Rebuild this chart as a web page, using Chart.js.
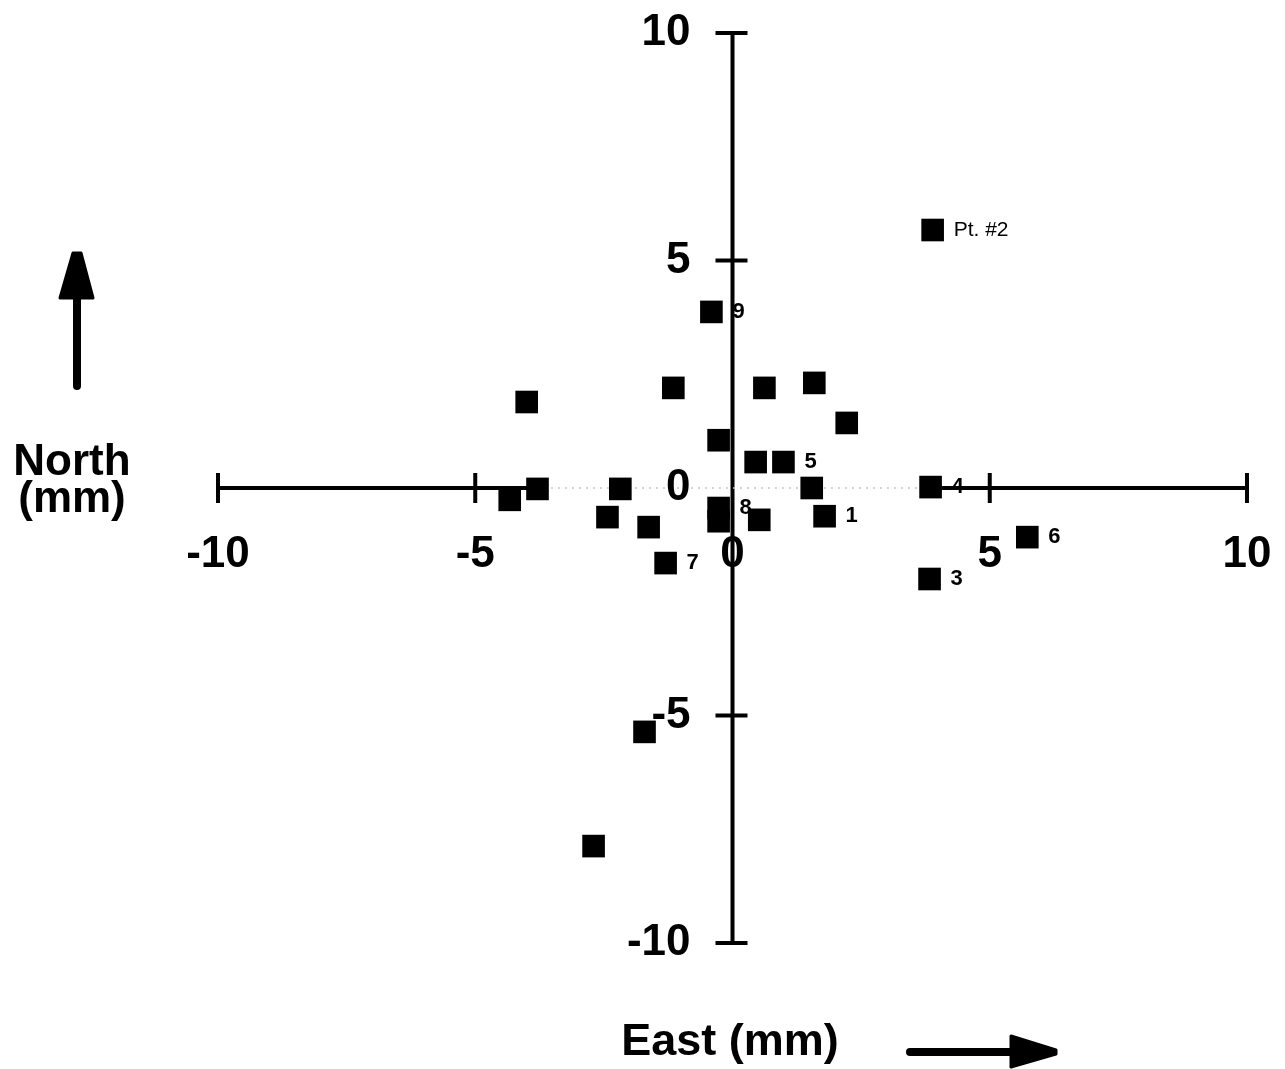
<!DOCTYPE html>
<html>
<head>
<meta charset="utf-8">
<script src="https://cdn.jsdelivr.net/npm/chart.js@4"></script>
<style>
  html, body { margin: 0; padding: 0; background: #fff; }
</style>
</head>
<body>
<canvas id="chartCanvas" width="1285" height="1069"></canvas>
<script>
// displacement of each survey point, mm
const eastMm  = [3.89, -0.41, -4.00, -1.15, 0.62, 1.59, 2.22, -0.27, 0.45, 0.99, 1.54, 1.79, 0.52, -0.27, -0.27, -2.18, -2.43, -1.63, -1.30, -3.79, -4.33, 3.85, 3.83, 5.73, -1.71, -2.70];
const northMm = [5.67, 3.87, 1.89, 2.20, 2.20, 2.31, 1.43, 1.05, 0.57, 0.57, 0.00, -0.62, -0.70, -0.44, -0.73, -0.02, -0.64, -0.86, -1.65, -0.02, -0.26, 0.02, -2.00, -1.08, -5.36, -7.87];
const pointTags = ['Pt. #2', '9', '', '', '', '', '', '', '', '5', '', '1', '', '8', '', '', '', '', '7', '', '', '4', '3', '6', '', ''];

const xTicks = [-10, -5, 5, 10];
const yTicks = [10, 5, -5, -10];
const xTickLabels = ['-10', '-5', '0', '5', '10'];
const xTickLabelVals = [-10, -5, 0, 5, 10];
const yTickLabels = ['10', '5', '0', '-5', '-10'];
const yTickLabelVals = [10, 5, 0, -5, -10];
const axisGap = [-3.8, 3.85]; // part of the east axis that faded out in print

const FONT = '"Liberation Sans", Arial, Helvetica, sans-serif';

const crossAxes = {
  id: 'crossAxes',
  beforeDatasetsDraw(chart) {
    const { ctx } = chart;
    const xs = chart.scales.x, ys = chart.scales.y;
    const x0 = xs.getPixelForValue(0), y0 = ys.getPixelForValue(0);
    ctx.save();
    ctx.strokeStyle = '#000';
    ctx.lineWidth = 4;
    ctx.lineCap = 'butt';

    // north axis
    ctx.beginPath();
    ctx.moveTo(x0, ys.getPixelForValue(10));
    ctx.lineTo(x0, ys.getPixelForValue(-10));
    ctx.stroke();
    yTicks.forEach(v => {
      const py = ys.getPixelForValue(v);
      ctx.beginPath();
      ctx.moveTo(x0 - 17, py);
      ctx.lineTo(x0 + 15, py);
      ctx.stroke();
    });

    // east axis, solid at both ends
    ctx.beginPath();
    ctx.moveTo(xs.getPixelForValue(-10), y0);
    ctx.lineTo(xs.getPixelForValue(axisGap[0]), y0);
    ctx.moveTo(xs.getPixelForValue(axisGap[1]), y0);
    ctx.lineTo(xs.getPixelForValue(10), y0);
    ctx.stroke();
    ctx.save();
    ctx.strokeStyle = '#c8c8c8';
    ctx.lineWidth = 1.5;
    ctx.setLineDash([2, 5]);
    ctx.beginPath();
    ctx.moveTo(xs.getPixelForValue(axisGap[0]), y0);
    ctx.lineTo(xs.getPixelForValue(axisGap[1]), y0);
    ctx.stroke();
    ctx.restore();
    xTicks.forEach(v => {
      const px = xs.getPixelForValue(v);
      ctx.beginPath();
      ctx.moveTo(px, y0 - 15);
      ctx.lineTo(px, y0 + 15);
      ctx.stroke();
    });

    // tick labels
    ctx.fillStyle = '#000';
    ctx.font = 'bold 44px ' + FONT;
    ctx.textAlign = 'center';
    ctx.textBaseline = 'middle';
    xTickLabels.forEach((t, i) => {
      ctx.fillText(t, xs.getPixelForValue(xTickLabelVals[i]), y0 + 67);
    });
    ctx.textAlign = 'right';
    yTickLabels.forEach((t, i) => {
      ctx.fillText(t, x0 - 42, ys.getPixelForValue(yTickLabelVals[i]));
    });

    // axis titles and arrows
    ctx.textAlign = 'center';
    ctx.fillText('North', 72, 463);
    ctx.fillText('(mm)', 72, 500);
    ctx.font = 'bold 45px ' + FONT;
    ctx.fillText('East (mm)', 730, 1043);

    ctx.lineWidth = 8;
    ctx.lineCap = 'round';
    ctx.beginPath();
    ctx.moveTo(77, 386);
    ctx.lineTo(77, 292);
    ctx.moveTo(910, 1052);
    ctx.lineTo(1015, 1052);
    ctx.stroke();
    ctx.lineJoin = 'round';
    ctx.lineWidth = 3;
    ctx.beginPath();
    ctx.moveTo(60, 298);
    ctx.lineTo(93, 298);
    ctx.lineTo(81, 253);
    ctx.lineTo(73, 253);
    ctx.closePath();
    ctx.fill();
    ctx.stroke();
    ctx.beginPath();
    ctx.moveTo(1011, 1036);
    ctx.lineTo(1056, 1050);
    ctx.lineTo(1056, 1054);
    ctx.lineTo(1011, 1067);
    ctx.closePath();
    ctx.fill();
    ctx.stroke();
    ctx.restore();
  },
  afterDatasetsDraw(chart) {
    const { ctx } = chart;
    const meta = chart.getDatasetMeta(0);
    ctx.save();
    ctx.fillStyle = '#000';
    ctx.textAlign = 'left';
    ctx.textBaseline = 'middle';
    meta.data.forEach((pt, i) => {
      const tag = pointTags[i];
      if (!tag) return;
      ctx.font = (tag.length > 1 ? '21px ' : 'bold 22px ') + FONT;
      ctx.fillText(tag, pt.x + 21, pt.y);
    });
    ctx.restore();
  }
};

new Chart(document.getElementById('chartCanvas').getContext('2d'), {
  type: 'scatter',
  data: {
    datasets: [{
      data: eastMm.map((e, i) => ({ x: e, y: northMm[i] })),
      pointStyle: 'rect',
      pointRadius: 16,
      pointHoverRadius: 16,
      backgroundColor: '#000',
      borderColor: '#000',
      borderWidth: 0
    }]
  },
  options: {
    responsive: false,
    animation: false,
    layout: { padding: { left: 218, right: 38, top: 33, bottom: 126 } },
    plugins: { legend: { display: false }, tooltip: { enabled: false } },
    scales: {
      x: { type: 'linear', min: -10, max: 10, display: false },
      y: { type: 'linear', min: -10, max: 10, display: false }
    }
  },
  plugins: [crossAxes]
});
</script>
</body>
</html>
